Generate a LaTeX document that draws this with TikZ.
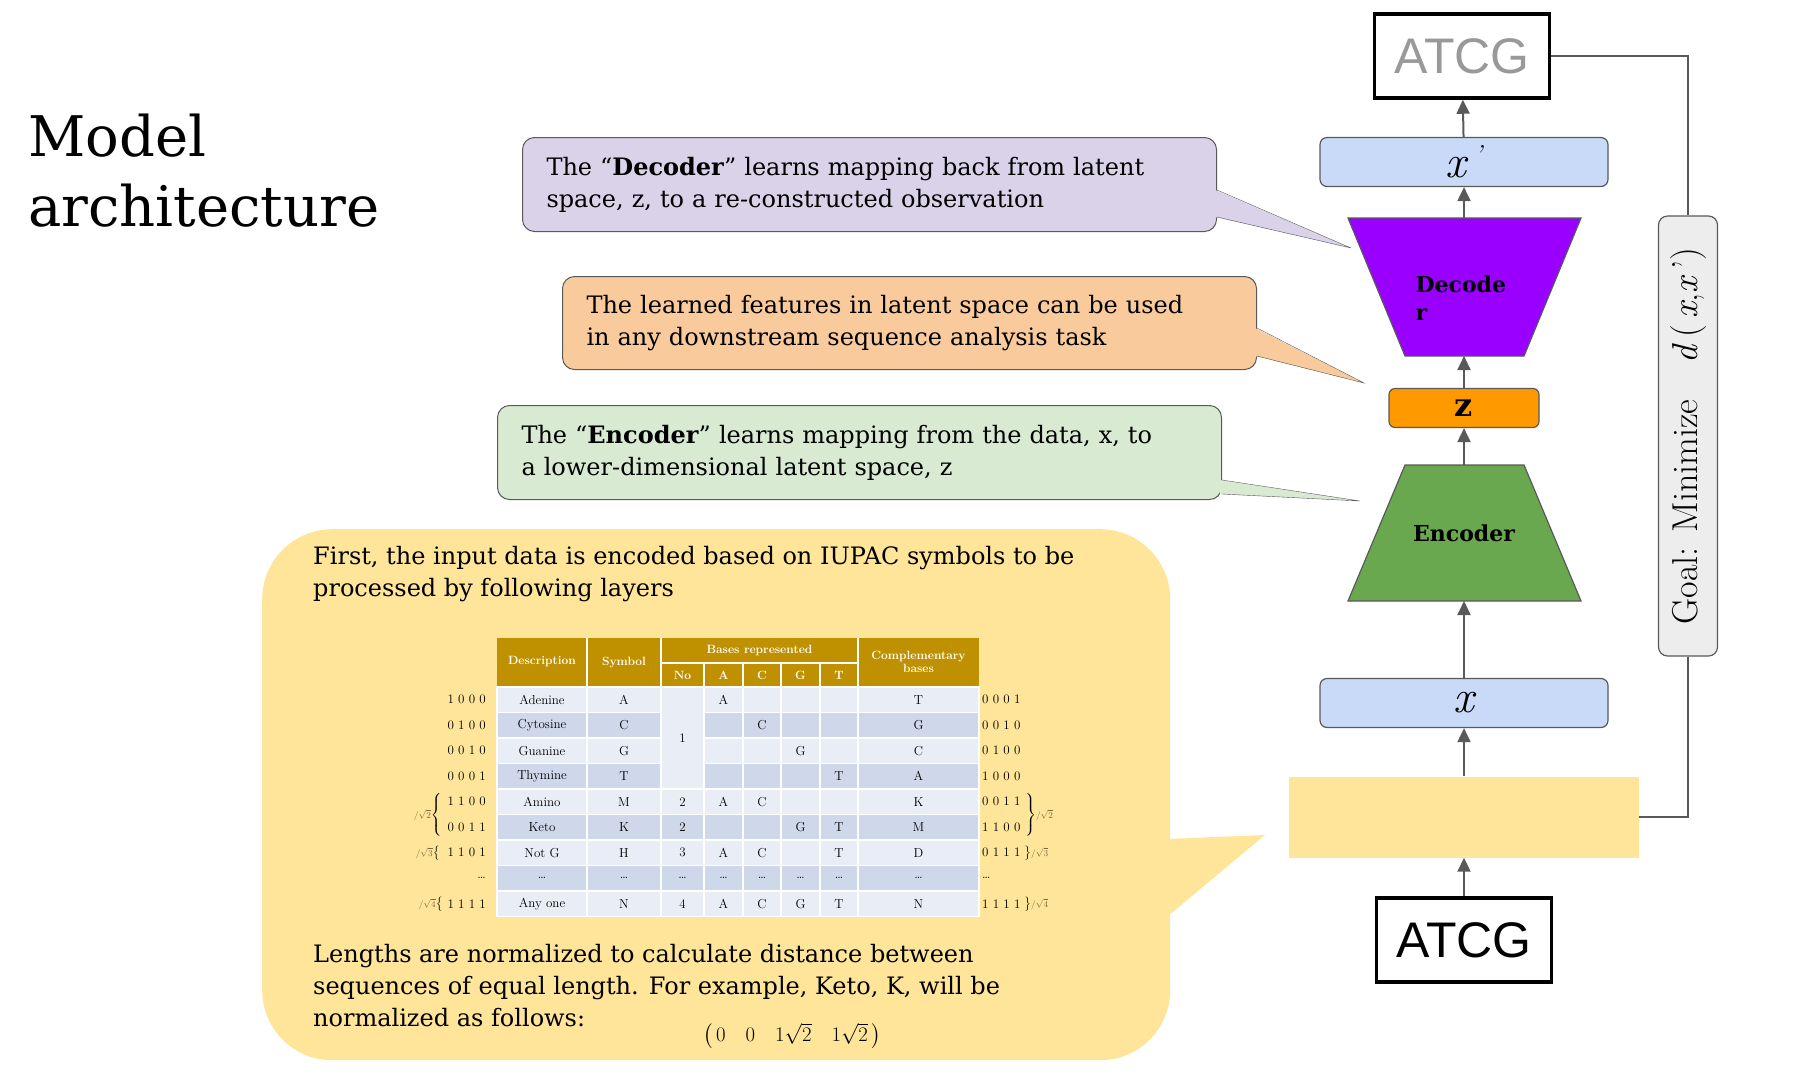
\documentclass[tikz,border=0pt]{standalone}
\usepackage{amsmath}
\usepackage{fontspec}
\newfontfamily\arialf{Liberation Sans}
\newfontfamily\slidef{DejaVu Serif}
\usetikzlibrary{calc,positioning,arrows.meta}
\definecolor{declav}{HTML}{D9D2E9}
\definecolor{featorange}{HTML}{F9CB9C}
\definecolor{encgreen}{HTML}{D9EAD3}
\definecolor{noteyellow}{HTML}{FFE599}
\definecolor{boxblue}{HTML}{C9DAF8}
\definecolor{decpurple}{HTML}{9900FF}
\definecolor{zorange}{HTML}{FF9900}
\definecolor{encfill}{HTML}{6AA84F}
\definecolor{linegray}{HTML}{595959}
\definecolor{headgold}{HTML}{BF9000}
\definecolor{rowa}{HTML}{E9EDF6}
\definecolor{rowb}{HTML}{CFD7EA}
\definecolor{sqgray}{HTML}{7F6A3A}
\tikzset{
  callout/.style={draw=linegray, line width=1pt, rounded corners=12pt, anchor=north west,
    align=left, inner sep=0pt, font=\slidef\fontsize{24}{32}\selectfont},
  flow/.style={draw=linegray, line width=2pt, -{Triangle[width=13pt,length=14pt]}},
  seqbox/.style={draw=black, line width=3.5pt, minimum width=175pt, minimum height=84pt,
    font=\arialf\fontsize{50}{50}\selectfont},
  varbox/.style={draw=linegray, line width=1.2pt, fill=boxblue, rounded corners=7pt,
    minimum width=288pt, minimum height=49pt, font=\itshape\fontsize{46}{46}\selectfont},
  coder/.style={draw=linegray, line width=1.2pt},
  codertext/.style={font=\slidef\bfseries\fontsize{22}{28}\selectfont, align=left},
  cell/.style={font=\fontsize{13}{13}\selectfont, inner sep=0pt},
  headcell/.style={cell, text=white, font=\bfseries\fontsize{12}{13}\selectfont, align=center},
}
\begin{document}
\begin{tikzpicture}[x=1pt,y=-1pt]
\useasboundingbox (0,0) rectangle (1801,1077);

% title
\node[anchor=north west, align=left, font=\slidef\fontsize{56}{70}\selectfont, inner sep=0pt] (title)
  at (28,114) {Model\\architecture};

% the autoencoder stack
\node[seqbox, text=gray!80] (atcgout) at (1462,56) {ATCG};
\node[varbox] (xout) at (1464,162) {x\,\raisebox{14pt}{\fontsize{26}{26}\selectfont'}};
\coordinate (dectop) at (1464,218);
\coordinate (decbot) at (1464,356);
\draw[coder, fill=decpurple] (1348,218) -- (1581,218) -- (1524,356) -- (1405,356) -- cycle;
\node[codertext, anchor=north west] (dectext) at (1412,272) {Decode\\r};
\node[draw=linegray, line width=1.2pt, fill=zorange, rounded corners=6pt, minimum width=150pt,
  minimum height=39pt, font=\slidef\bfseries\fontsize{32}{32}\selectfont] (latent) at (1464,408) {z};
\coordinate (enctop) at (1464,465);
\coordinate (encbot) at (1464,601);
\draw[coder, fill=encfill] (1405,465) -- (1524,465) -- (1581,601) -- (1348,601) -- cycle;
\node[codertext] (enctext) at (1464,533) {Encoder};
\node[varbox] (xin) at (1464,703) {x};
\node[fill=noteyellow, minimum width=350pt, minimum height=81pt] (embed) at (1464,817) {};
\node[seqbox] (atcgin) at (1464,940) {ATCG};

\draw[flow] (atcgin) -- (embed);
\draw[flow] (embed) -- (xin);
\draw[flow] (xin) -- (encbot);
\draw[flow] (enctop) -- (latent);
\draw[flow] (latent) -- (decbot);
\draw[flow] (dectop) -- (xout);
\draw[flow] (xout) -- (atcgout);

% goal
\node[draw=linegray, line width=1.2pt, fill=black!7, rounded corners=9pt, minimum width=59pt,
  minimum height=440pt] (goal) at (1688,436) {};
\node[rotate=90, font=\fontsize{36}{36}\selectfont] (goaltext) at (goal.center)
  {Goal: Minimize\quad\textit{d}\,(\,\textit{x},\textit{x}\,')};
\draw[linegray, line width=1.5pt] (atcgout.east) -| (goal.north);
\draw[linegray, line width=1.5pt] (goal.south) |- (embed.east);

% callouts
\node[callout, fill=declav, minimum width=694pt, minimum height=94pt, text width=646pt] (decnote)
  at (522,137) {The “\textbf{Decoder}” learns mapping back from latent\\space, z, to a re-constructed observation};
\coordinate (dectip) at (1351,248);
\fill[declav] ($(decnote.north east)+(-2,53)$) -- (dectip) -- ($(decnote.north east)+(-2,80)$) -- cycle;
\draw[linegray] ($(decnote.north east)+(0,53)$) -- (dectip) -- ($(decnote.north east)+(0,80)$);

\node[callout, fill=featorange, minimum width=694pt, minimum height=93pt, text width=646pt] (featnote)
  at (562,276) {The learned features in latent space can be used\\in any downstream sequence analysis task};
\coordinate (feattip) at (1364,383);
\fill[featorange] ($(featnote.north east)+(-2,52)$) -- (feattip) -- ($(featnote.north east)+(-2,80)$) -- cycle;
\draw[linegray] ($(featnote.north east)+(0,52)$) -- (feattip) -- ($(featnote.north east)+(0,80)$);

\node[callout, fill=encgreen, minimum width=724pt, minimum height=94pt, text width=676pt] (encnote)
  at (497,405) {The “\textbf{Encoder}” learns mapping from the data, x, to\\a lower-dimensional latent space, z};
\coordinate (enctip) at (1360,501);
\fill[encgreen] ($(encnote.north east)+(-2,75)$) -- (enctip) -- ($(encnote.north east)+(-2,89)$) -- cycle;
\draw[linegray] ($(encnote.north east)+(0,75)$) -- (enctip) -- ($(encnote.north east)+(0,89)$);

% big note on the input encoding
\node[fill=noteyellow, rounded corners=70pt, minimum width=908pt, minimum height=531pt,
  anchor=north west] (inputnote) at (262,529) {};
\coordinate (inputtip) at (1265,835);
\fill[noteyellow] ($(inputnote.north east)+(-3,310)$) -- (inputtip) -- ($(inputnote.north east)+(-30,410)$) -- cycle;
\node[anchor=north west, align=left, inner sep=0pt, font=\slidef\fontsize{24}{32}\selectfont] (firsttext)
  at (313,546) {First, the input data is encoded based on IUPAC symbols to be\\processed by following layers};
\node[anchor=north west, align=left, inner sep=0pt, font=\slidef\fontsize{24}{32}\selectfont] (lentext)
  at (313,944) {Lengths are normalized to calculate distance between\\sequences of equal length. For example, Keto, K, will be\\normalized as follows:};
\node[font=\fontsize{20}{20}\selectfont] (normvec) at (792,1036)
  {$\left(\,0\quad 0\quad 1\sqrt{2}\quad 1\sqrt{2}\,\right)$};

% IUPAC table
\fill[headgold] (497,638) rectangle (979,687);
\foreach \xc in {587,661,858} \draw[white, line width=1.5pt] (\xc,638) -- (\xc,687);
\foreach \xc in {704,743,781,820} \draw[white, line width=1.5pt] (\xc,663) -- (\xc,687);
\draw[white, line width=1.5pt] (661,663) -- (858,663);
\node[headcell] at (542,662) {Description};
\node[headcell] at (624,662) {Symbol};
\node[headcell] at (759.5,650.5) {Bases represented};
\node[headcell] at (918.5,662) {Complementary\\bases};
\foreach \h/\xc in {No/682.5,A/723.5,C/762,G/800.5,T/839} \node[headcell] at (\xc,675) {\h};

\foreach \d/\s/\n/\a/\c/\g/\t/\m/\l/\q [count=\r] in {
  Adenine/A//A////T/1 0 0 0/0 0 0 1,
  Cytosine/C///C///G/0 1 0 0/0 0 1 0,
  Guanine/G////G//C/0 0 1 0/0 1 0 0,
  Thymine/T/////T/A/0 0 0 1/1 0 0 0,
  Amino/M/2/A/C///K/1 1 0 0/0 0 1 1,
  Keto/K/2///G/T/M/0 0 1 1/1 1 0 0,
  Not G/H/3/A/C//T/D/1 1 0 1/0 1 1 1,
  \dots/\dots/\dots/\dots/\dots/\dots/\dots/\dots/\dots/\dots,
  Any one/N/4/A/C/G/T/N/1 1 1 1/1 1 1 1}{
  \pgfmathsetmacro{\yt}{687+(\r-1)*25.5}
  \pgfmathsetmacro{\yc}{\yt+12.75}
  \pgfmathparse{mod(\r,2)==1?"rowa":"rowb"}
  \edef\rowfill{\pgfmathresult}
  \foreach \xa/\xb in {497/587,587/661,661/704,704/743,743/781,781/820,820/858,858/979}
    \filldraw[fill=\rowfill, draw=white, line width=1.5pt] (\xa,\yt) rectangle (\xb,\yt+25.5);
  \node[cell] at (542,\yc) {\d};
  \node[cell] at (624,\yc) {\s};
  \node[cell] at (682.5,\yc) {\n};
  \node[cell] at (723.5,\yc) {\a};
  \node[cell] at (762,\yc) {\c};
  \node[cell] at (800.5,\yc) {\g};
  \node[cell] at (839,\yc) {\t};
  \node[cell] at (918.5,\yc) {\m};
  \node[cell, anchor=east] at (486,\yc) {\l};
  \node[cell, anchor=west] at (982,\yc) {\q};
}
\filldraw[fill=rowa, draw=white, line width=1.5pt] (661,687) rectangle (704,789);
\node[cell] (one) at (682.5,738) {1};

% normalisation braces
\node[cell, anchor=east] (ltwo) at (443,815)
  {$\scriptstyle\color{sqgray}/\sqrt{2}$$\left\{\vcenter{\hrule width0pt height 44pt}\right.$};
\node[cell, anchor=east] (lthree) at (440,853)
  {$\scriptstyle\color{sqgray}/\sqrt{3}$$\bigl\{$};
\node[cell, anchor=east] (lfour) at (443,904)
  {$\scriptstyle\color{sqgray}/\sqrt{4}$$\bigl\{$};
\node[cell, anchor=west] (rtwo) at (1024,815)
  {$\left.\vcenter{\hrule width0pt height 44pt}\right\}$$\scriptstyle\color{sqgray}/\sqrt{2}$};
\node[cell, anchor=west] (rthree) at (1024,853)
  {$\bigr\}$$\scriptstyle\color{sqgray}/\sqrt{3}$};
\node[cell, anchor=west] (rfour) at (1024,904)
  {$\bigr\}$$\scriptstyle\color{sqgray}/\sqrt{4}$};
\end{tikzpicture}
\end{document}
